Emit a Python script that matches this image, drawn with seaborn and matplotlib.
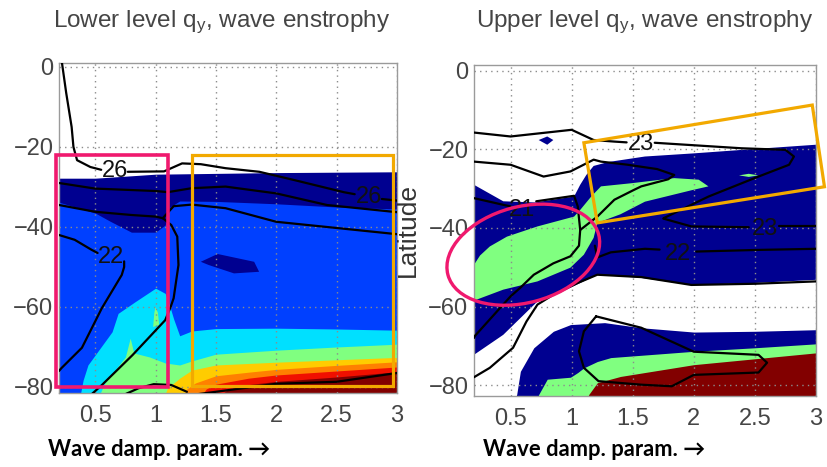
import numpy as np
import matplotlib
matplotlib.use("Agg")
import matplotlib.pyplot as plt
import seaborn as sns
from matplotlib.patches import Rectangle, Polygon, Ellipse
from matplotlib.transforms import ScaledTranslation

sns.set_style("white")
plt.rcParams['font.family'] = ['Liberation Sans', 'DejaVu Sans']
plt.rcParams['mathtext.default'] = 'regular'

# ---------------- colours (MATLAB jet levels) ----------------
NAVY, BLUE, CYAN, GREEN = '#000090', '#0040FF', '#00E0FF', '#80FF80'
YELLOW, ORANGE, RED, DRED = '#FFCC00', '#FF8000', '#F01000', '#820000'
PINK, GOLD = '#F0196E', '#F2A900'

XTICKS = [0.5, 1, 1.5, 2, 2.5, 3]
XTICKLABELS = ['0.5', '1', '1.5', '2', '2.5', '3']
YTICKS = [0, -20, -40, -60, -80]

# ---------------- LEFT panel: filled bands (top boundaries) ----------------
L_NAVY_X = [0.2, 0.5, 1.0, 1.5, 2.0, 2.5, 3.0]
L_NAVY_TOP = [-27.8, -27.8, -26.8, -26.6, -26.4, -26.3, -26.2]
L_BLUE_X = [0.2, 0.5, 0.62, 0.8, 1.0, 1.08, 1.12, 1.2, 1.5, 2.0, 2.5, 3.0]
L_BLUE_TOP = [-33.8, -36.5, -38.5, -41.3, -41.3, -39.5, -35.0, -33.5, -33.6, -34.2, -35.0, -35.5]
L_ISLE_X = [1.375, 1.514, 1.817, 1.858, 1.65, 1.44]
L_ISLE_Y = [-48.7, -46.75, -48.7, -51.2, -51.6, -49.5]
L_CYAN_X = [0.37, 0.4, 0.44, 0.64, 0.69, 0.83, 1.0, 1.08, 1.12, 1.15, 1.2, 1.3, 1.5, 2.0, 2.5, 3.0]
L_CYAN_TOP = [-83, -78.3, -74.5, -66.2, -61.6, -58.7, -55.3, -56.6, -60.0, -63.0, -67.2, -66.0, -65.4, -65.3, -65.5, -65.8]
L_GREEN_X = [0.52, 0.58, 0.66, 0.75, 0.79, 0.82, 0.95, 1.08, 1.2, 1.3, 1.5, 2.0, 2.5, 3.0]
L_GREEN_TOP = [-83, -79.0, -76.0, -72.5, -67.8, -71.5, -72.5, -74.0, -74.5, -73.5, -71.8, -70.8, -70.0, -69.3]
L_GISLE_X = [0.98, 0.99, 1.0, 1.02, 1.03]
L_GISLE_Y = [-65.0, -61.5, -60.0, -61.5, -64.5]
L_YEL_X = [1.06, 1.1, 1.2, 1.3, 1.5, 2.0, 2.5, 3.0]
L_YEL_TOP = [-83, -80.3, -77.8, -75.8, -74.5, -73.8, -73.2, -72.6]
L_ORG_X = [1.22, 1.26, 1.33, 1.5, 1.77, 2.0, 2.5, 3.0]
L_ORG_TOP = [-83, -80.5, -79.0, -77.2, -76.3, -75.6, -74.6, -73.7]
L_RED_X = [1.36, 1.42, 1.5, 1.77, 2.0, 2.5, 3.0]
L_RED_TOP = [-83, -80.5, -79.3, -77.8, -77.0, -76.0, -75.0]
L_DRED_X = [1.5, 1.6, 1.77, 2.0, 2.5, 3.0]
L_DRED_TOP = [-83, -80.6, -79.4, -78.6, -77.5, -76.2]

# ---------------- LEFT panel: contour lines ----------------
L_LINES = [
    ([0.225, 0.26, 0.305, 0.32, 0.35, 0.46, 0.55], [1, -6.5, -15, -20, -23.3, -25, -25.7]),
    ([0.77, 1.07, 1.22, 1.375, 1.58, 1.86, 2.14, 2.56, 2.65], [-26.2, -26.1, -24.1, -24.3, -25.3, -26.2, -28.2, -31.3, -31.8]),
    ([2.875, 3.0], [-33.0, -33.4]),
    ([0.2, 0.5, 1.0, 1.1, 1.3, 1.58, 2.0, 2.42, 3.0], [-29, -30.4, -31, -31.3, -30.3, -29.9, -31.6, -34.5, -36.3]),
    ([0.2, 0.5, 0.8, 1.0, 1.06], [-34.5, -36.2, -37, -37.4, -37.8]),
    ([1.06, 1.15, 1.3, 1.58, 2.0, 2.42, 3.0], [-37.8, -34.8, -34.4, -35.3, -38.7, -40, -41.8]),
    ([1.06, 1.13, 1.18, 1.19, 1.15, 1.125, 1.08, 0.81, 0.556, 0.445], [-37.8, -39.5, -42.4, -49.5, -57.8, -60, -63.3, -72, -79.5, -82.5]),
    ([0.2, 0.33, 0.47, 0.52], [-42, -43.2, -45.7, -46.5]),
    ([0.74, 0.74, 0.72, 0.555, 0.39, 0.22, 0.2], [-48.6, -50, -52, -60.3, -70.2, -75.3, -76]),
    ([0.75, 0.86, 0.985, 1.13, 1.26], [-81.8, -80.3, -79.3, -79.5, -81.2]),
    ([1.35, 1.75, 2.0, 2.5, 3.0], [-81.8, -80.2, -79.2, -78.7, -76.5]),
]
L_LABELS = [(0.665, -25.9, '26'), (2.77, -32.5, '26'), (0.63, -47.6, '22')]

# ---------------- RIGHT panel: filled bands ----------------
R_NAVY_TOP_X = [0.2, 0.44, 0.7, 1.02, 1.07, 1.12, 1.18, 1.3, 1.6, 2.0, 2.4, 3.0]
R_NAVY_TOP = [-29, -33.2, -33.5, -32, -29, -26.5, -24.2, -23.2, -21.8, -21, -20.1, -18.8]
R_NAVY_BOT_X = [0.2, 0.44, 0.72, 0.99, 1.21, 1.57, 1.98, 2.5, 3.0]
R_NAVY_BOT = [-72.3, -67.2, -58.7, -55.2, -51.9, -52.7, -54.5, -54.0, -53.2]
R_GREEN1_X = [0.2, 0.25, 0.33, 0.47, 0.72, 1.02, 1.07, 1.16, 1.24, 1.49, 1.84, 2.04, 2.12,
              1.98, 1.6, 1.4, 1.21, 1.18, 1.1, 0.99, 0.72, 0.44, 0.2]
R_GREEN1_Y = [-49.4, -47, -44.7, -42.2, -39.6, -37.1, -35.4, -32, -29.4, -28.6, -27.3, -27.7, -29.4,
              -30.4, -33.3, -36.5, -38.7, -42.5, -46.8, -50.1, -53.6, -55.7, -58.5]
R_DOT_X = [0.73, 0.80, 0.85, 0.80]
R_DOT_Y = [-17.6, -16.7, -17.6, -18.8]
R_FLECK_X = [2.37, 2.45, 2.53, 2.45]
R_FLECK_Y = [-26.6, -26.2, -26.6, -27.0]
R_NAVY2_X = [0.53, 0.55, 0.58, 0.69, 0.85, 0.99, 1.27, 1.57, 2.0, 2.5, 3.0]
R_NAVY2_TOP = [-84, -82.4, -76.5, -70.5, -66.3, -64.6, -64.1, -65.4, -66.5, -66.3, -65.9]
R_GREEN2_X = [0.71, 0.73, 0.8, 0.99, 1.05, 1.1, 1.21, 1.32, 2.0, 2.5, 3.0]
R_GREEN2_TOP = [-84, -82.4, -78.5, -78.0, -76.8, -75.6, -74.0, -73.0, -71.4, -70.5, -69.5]
R_DRED_X = [1.12, 1.14, 1.21, 1.4, 2.0, 2.5, 3.0]
R_DRED_TOP = [-84, -82.4, -79.4, -77.8, -74.8, -73.3, -71.8]

# ---------------- RIGHT panel: contour lines ----------------
R_LINES = [
    ([0.2, 0.5, 1.0, 1.18, 1.35, 1.45], [-15.7, -16.7, -15, -17.6, -18, -18.2]),
    ([1.68, 2.39, 2.75, 2.82, 2.78, 2.53, 2.12, 1.84, 1.76, 1.75, 1.98, 2.45], [-18.3, -19.7, -20.1, -21.8, -23.9, -26.9, -32, -36.2, -37.4, -37.6, -39.6, -39.8]),
    ([2.7, 3.0], [-39.6, -39.6]),
    ([0.2, 0.5, 0.77, 0.99, 1.18, 1.24, 1.46, 1.7, 1.84, 1.79, 1.57, 1.51, 1.35, 1.21, 1.07], [-23.1, -23.9, -26.9, -25.6, -22.6, -23.1, -23.9, -25, -26.5, -27.6, -29.4, -30.3, -32.8, -37.1, -40.5]),
    ([0.2, 0.44, 0.5], [-32.4, -34.1, -34.5]),
    ([0.71, 1.02, 1.05, 1.07, 1.06, 0.99, 0.85, 0.69, 0.58, 0.5, 0.21, 0.2], [-33.2, -31.8, -34.5, -40.5, -44.5, -47.2, -49, -51.9, -55.2, -57.4, -67.4, -68]),
    ([1.19, 1.21, 1.32, 1.6, 1.72], [-44.5, -47.5, -46.2, -45.3, -45.5]),
    ([2.02, 2.5, 3.0], [-46.0, -45.6, -45.3]),
    ([0.2, 0.33, 0.52, 0.63, 0.72, 0.85, 1.05, 1.21, 1.57, 1.98, 2.5, 3.0], [-78, -75.6, -70.5, -63.8, -59.5, -57, -54, -51.9, -52.5, -54.5, -54.2, -53.6]),
    ([1.2, 1.57, 2.0, 2.53, 2.6, 2.53, 2.0, 1.82, 1.57, 1.22, 1.1, 1.06, 1.1, 1.2], [-62.5, -65.4, -71.5, -72.3, -74.3, -76.8, -77.4, -80.3, -79.9, -79, -75.6, -71.4, -66.3, -62.5]),
]
R_LABELS = [(1.57, -18.6, '23'), (0.59, -35.4, '21'), (2.58, -40.3, '23'), (1.87, -46.5, '22')]

# ---------------- annotations ----------------
L_PINK_BOX = (0.175, -80.1, 1.1, -21.9)     # x0, y0, x1, y1
L_GOLD_BOX = (1.305, -79.8, 2.97, -21.9)
R_GOLD_X = [1.10, 2.97, 3.07, 1.21]
R_GOLD_Y = [-18.3, -8.7, -29.5, -38.7]
R_ELLIPSE = (0.604, -46.8, 1.56, 0.96, 15)  # centre x, lat, width in, height in, angle

fig = plt.figure(figsize=(8.27, 4.67), dpi=100)
axL = fig.add_axes([0.0713, 0.1585, 0.4087, 0.7066])
axR = fig.add_axes([0.5731, 0.1527, 0.4135, 0.7081])


def band(ax, xs, top, color):
    ax.fill_between(xs, top, -95, color=color, lw=0, zorder=1)


def poly(ax, xs, ys, color):
    ax.fill(xs, ys, color=color, lw=0, zorder=1)


def style(ax, ylim):
    ax.set_xlim(0.2, 3.0)
    ax.set_ylim(*ylim)
    ax.set_xticks(XTICKS)
    ax.set_xticklabels(XTICKLABELS)
    ax.set_yticks(YTICKS)
    ax.set_axisbelow(False)
    ax.grid(True, linestyle=(0, (1, 3)), color='#8c8c8c', lw=1.0)
    ax.tick_params(direction='in', length=3, color='#999999', labelsize=17,
                   labelcolor='#454545')
    ax.tick_params(axis='x', pad=9)
    ax.tick_params(axis='y', pad=4)
    for s in ax.spines.values():
        s.set_color('#9a9a9a')
        s.set_linewidth(1.0)
    ax.set_xlabel('')
    ax.set_ylabel('')


def clines(ax, lines, labels):
    for xs, ys in lines:
        sns.lineplot(x=xs, y=ys, sort=False, estimator=None, color='black',
                     lw=1.6, ax=ax, legend=False, zorder=3)
    for x, y, t in labels:
        ax.text(x, y, t, fontsize=17, ha='center', va='center', color='#111111', zorder=4)


# Left panel fills
band(axL, L_NAVY_X, L_NAVY_TOP, NAVY)
band(axL, L_BLUE_X, L_BLUE_TOP, BLUE)
poly(axL, L_ISLE_X, L_ISLE_Y, NAVY)
band(axL, L_CYAN_X, L_CYAN_TOP, CYAN)
band(axL, L_GREEN_X, L_GREEN_TOP, GREEN)
poly(axL, L_GISLE_X, L_GISLE_Y, GREEN)
band(axL, L_YEL_X, L_YEL_TOP, YELLOW)
band(axL, L_ORG_X, L_ORG_TOP, ORANGE)
band(axL, L_RED_X, L_RED_TOP, RED)
band(axL, L_DRED_X, L_DRED_TOP, DRED)
clines(axL, L_LINES, L_LABELS)
style(axL, (-81.5, 1.0))

# Right panel fills
poly(axR, R_NAVY_TOP_X + R_NAVY_BOT_X[::-1], R_NAVY_TOP + R_NAVY_BOT[::-1], NAVY)
poly(axR, R_GREEN1_X, R_GREEN1_Y, GREEN)
poly(axR, R_DOT_X, R_DOT_Y, NAVY)
poly(axR, R_FLECK_X, R_FLECK_Y, GREEN)
band(axR, R_NAVY2_X, R_NAVY2_TOP, NAVY)
band(axR, R_GREEN2_X, R_GREEN2_TOP, GREEN)
band(axR, R_DRED_X, R_DRED_TOP, DRED)
clines(axR, R_LINES, R_LABELS)
style(axR, (-82.7, 1.5))

# annotations
x0, y0, x1, y1 = L_PINK_BOX
axL.add_patch(Rectangle((x0, y0), x1 - x0, y1 - y0, fill=False, ec=PINK, lw=2.6,
                        clip_on=False, zorder=5))
x0, y0, x1, y1 = L_GOLD_BOX
axL.add_patch(Rectangle((x0, y0), x1 - x0, y1 - y0, fill=False, ec=GOLD, lw=2.3,
                        clip_on=False, zorder=5))
axR.add_patch(Polygon(list(zip(R_GOLD_X, R_GOLD_Y)), closed=True, fill=False, ec=GOLD,
                      lw=2.3, clip_on=False, zorder=5))
cx, cy, w, h, ang = R_ELLIPSE
ell = Ellipse((0, 0), w, h, angle=ang, fill=False, ec=PINK, lw=2.4, clip_on=False, zorder=5,
              transform=fig.dpi_scale_trans + ScaledTranslation(cx, cy, axR.transData))
axR.add_patch(ell)
axR.set_xlim(0.2, 3.0)
axR.set_ylim(-82.7, 1.5)

# texts
fig.text(222 / 827, 1 - 22 / 467, 'Lower level q$_y$, wave enstrophy', ha='center', va='center',
         fontsize=17.5, color='#454545')
fig.text(645 / 827, 1 - 22 / 467, 'Upper level q$_y$, wave enstrophy', ha='center', va='center',
         fontsize=17.5, color='#454545')
fig.text(408 / 827, 1 - 230 / 467, 'Latitude', rotation=90, ha='center', va='center',
         fontsize=19, color='#333333')
for xl in (48, 483):
    fig.text(xl / 827, 1 - 450 / 467, 'Wave damp. param. \u2192', ha='left', va='center',
             fontsize=15.8, fontweight='bold', color='black', family=['Lato', 'DejaVu Sans'])

fig.savefig('out.png', dpi=100)
